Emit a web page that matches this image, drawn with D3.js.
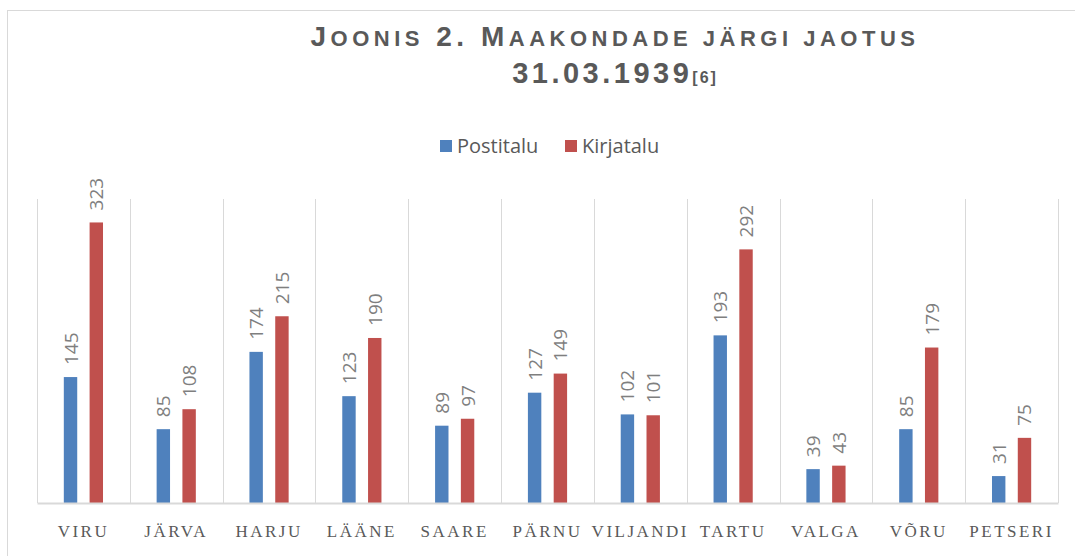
<!DOCTYPE html>
<html lang="et">
<head>
<meta charset="UTF-8">
<title>Joonis 2</title>
<script src="https://d3js.org/d3.v7.min.js"></script>
<style>
  body { margin: 0; background: #fff; }
  .title { font-family: "Liberation Sans", Arial, sans-serif; font-weight: bold; fill: #595959; }
  .x-axis text { font-family: "Liberation Serif", "DejaVu Serif", serif; font-size: 17px; fill: #595959; letter-spacing: 2.5px; }
  .val { font-family: "Open Sans", "Noto Sans", sans-serif; font-size: 19px; fill: #7f7f7f; }
  .legend text { font-family: "Open Sans", "Noto Sans", sans-serif; font-size: 20px; fill: #595959; }
</style>
</head>
<body>
<svg id="chart" width="1075" height="556"></svg>
<script>
// data
const counties = ["VIRU", "JÄRVA", "HARJU", "LÄÄNE", "SAARE", "PÄRNU", "VILJANDI", "TARTU", "VALGA", "VÕRU", "PETSERI"];
const postitalu = [145, 85, 174, 123, 89, 127, 102, 193, 39, 85, 31];
const kirjatalu = [323, 108, 215, 190, 97, 149, 101, 292, 43, 179, 75];
const seriesNames = ["Postitalu", "Kirjatalu"];
const colors = ["#4f81bd", "#c0504d"];

const svg = d3.select("#chart");

// outer frame
svg.append("line").attr("x1", 7).attr("x2", 1075).attr("y1", 10.5).attr("y2", 10.5).attr("stroke", "#d9d9d9");
svg.append("line").attr("x1", 7.5).attr("x2", 7.5).attr("y1", 10).attr("y2", 556).attr("stroke", "#d9d9d9");

// title (small caps by hand)
const title = svg.append("text").attr("class", "title").attr("text-anchor", "middle");
title.append("tspan").attr("x", 615).attr("y", 46).attr("font-size", 28).attr("letter-spacing", 4.5)
  .text("J").append("tspan").attr("font-size", 22).text("OONIS");
title.append("tspan").attr("font-size", 28).attr("letter-spacing", 4.5).text(" 2. M")
  .append("tspan").attr("font-size", 22).text("AAKONDADE JÄRGI JAOTUS");
title.append("tspan").attr("x", 615).attr("y", 83).attr("font-size", 29).attr("letter-spacing", 3.5)
  .text("31.03.1939").append("tspan").attr("font-size", 16).attr("letter-spacing", 2).text("[6]");

// legend
const legend = svg.append("g").attr("class", "legend");
const legX = [440, 565];
seriesNames.forEach((s, i) => {
  legend.append("rect").attr("x", legX[i]).attr("y", 140).attr("width", 12).attr("height", 12).attr("fill", colors[i]);
  legend.append("text").attr("x", legX[i] + 17).attr("y", 153).text(s);
});

// plot
const plotL = 37, plotR = 1058, plotT = 199, plotB = 503;
const x = d3.scaleBand().domain(counties).range([plotL, plotR]);
const y = d3.scaleLinear().domain([0, 350]).range([plotB, plotT]);
const inner = d3.scaleBand().domain([0, 1]).range([0, x.bandwidth()]).paddingInner(0.48).paddingOuter(1.04);

// vertical gridlines
const bounds = counties.map(c => x(c)).concat([plotR]);
svg.append("g").selectAll("line").data(bounds).join("line")
  .attr("x1", d => Math.round(d) + 0.5).attr("x2", d => Math.round(d) + 0.5)
  .attr("y1", plotT).attr("y2", plotB)
  .attr("stroke", "#d9d9d9");

const series = [postitalu, kirjatalu];
series.forEach((vals, si) => {
  const g = svg.append("g");
  g.selectAll("rect").data(counties).join("rect")
    .attr("x", (c) => x(c) + inner(si))
    .attr("width", inner.bandwidth())
    .attr("y", (c, i) => y(vals[i]))
    .attr("height", (c, i) => plotB - y(vals[i]))
    .attr("fill", colors[si]);
  g.selectAll("text").data(counties).join("text")
    .attr("class", "val")
    .attr("transform", (c, i) => `translate(${x(c) + inner(si) + inner.bandwidth() / 2 + 7},${y(vals[i]) - 12}) rotate(-90)`)
    .text((c, i) => vals[i]);
});

// x axis
const xAxis = svg.append("g").attr("class", "x-axis")
  .attr("transform", `translate(0,${plotB})`)
  .call(d3.axisBottom(x).tickSize(0).tickPadding(22));
xAxis.select(".domain").attr("stroke", "#d9d9d9").attr("stroke-width", 2);
</script>
</body>
</html>
